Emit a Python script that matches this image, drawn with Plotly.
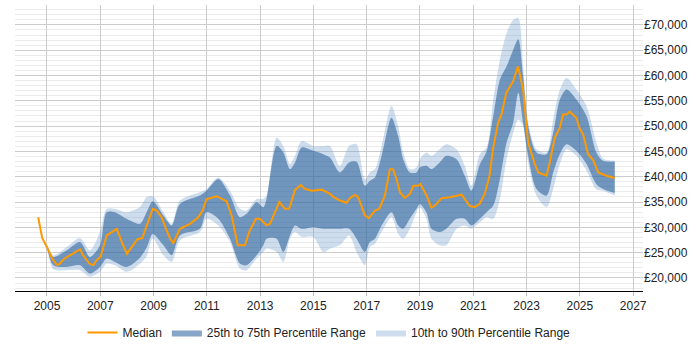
import plotly.graph_objects as go

# Median series (decimal year, GBP)
median_years = [2004.67, 2004.82, 2005.0, 2005.2, 2005.36, 2005.46, 2005.65, 2005.93, 2006.24, 2006.36,
                2006.59, 2006.74, 2006.86, 2007.01, 2007.24, 2007.45, 2007.62, 2007.83, 2008.0, 2008.18,
                2008.39, 2008.58, 2008.74, 2008.97, 2009.12, 2009.3, 2009.47, 2009.62, 2009.74, 2009.99,
                2010.37, 2010.68, 2010.84, 2010.99, 2011.37, 2011.74, 2011.93, 2012.16, 2012.43, 2012.59,
                2012.84, 2012.99, 2013.24, 2013.37, 2013.72, 2013.93, 2014.09, 2014.31, 2014.53, 2014.68,
                2014.93, 2015.31, 2015.62, 2015.74, 2015.99, 2016.25, 2016.37, 2016.56, 2016.68, 2016.93,
                2017.08, 2017.31, 2017.47, 2017.68, 2017.87, 2017.99, 2018.12, 2018.25, 2018.43, 2018.62,
                2018.75, 2018.93, 2019.02, 2019.25, 2019.43, 2019.56, 2019.81, 2020.12, 2020.56, 2020.68,
                2020.87, 2021.05, 2021.24, 2021.43, 2021.61, 2021.74, 2021.93, 2022.06, 2022.24, 2022.5,
                2022.68, 2022.87, 2023.06, 2023.31, 2023.44, 2023.75, 2023.87, 2024.06, 2024.25, 2024.37,
                2024.5, 2024.62, 2024.75, 2024.87, 2025.0, 2025.12, 2025.31, 2025.5, 2025.69, 2026.0, 2026.31]
median_values = [32000, 27900, 26100, 23800, 22650, 22700, 23800, 24600, 25650, 24450,
                 22850, 22500, 23500, 24150, 28400, 29100, 29700, 26800, 24800, 26100,
                 27600, 27900, 30400, 33650, 33300, 32000, 29700, 27750, 26900, 29700,
                 30700, 32000, 33300, 35600, 36150, 35150, 32350, 26450, 26450, 29100,
                 31700, 31700, 30400, 30700, 35000, 33650, 33650, 37400, 38350, 37600,
                 37250, 37450, 36600, 36050, 35300, 34850, 35800, 36400, 35950, 32350,
                 31800, 33300, 33650, 36250, 41500, 41500, 39550, 36900, 35800, 36600,
                 38200, 38200, 38550, 36250, 33850, 34300, 35750, 35950, 36450, 35600,
                 34200, 34000, 34650, 36600, 40200, 45450, 50700, 52300, 56600, 58900,
                 61800, 57200, 46750, 42500, 40850, 40200, 42800, 47750, 49700, 52300,
                 52300, 52850, 52300, 51650, 49400, 48400, 44450, 43300, 40850, 40200, 39750]

# Percentile bands (decimal year, GBP)
band_years = [2004.67, 2004.82, 2005.0, 2005.24, 2005.74, 2006.24, 2006.61, 2006.99, 2007.24, 2007.55,
              2007.99, 2008.49, 2008.74, 2008.97, 2009.37, 2009.68, 2009.99, 2010.74, 2010.99, 2011.43,
              2011.87, 2012.24, 2012.49, 2012.87, 2013.12, 2013.24, 2013.62, 2013.87, 2014.12, 2014.31,
              2014.56, 2014.99, 2015.37, 2015.62, 2015.99, 2016.34, 2016.62, 2016.93, 2017.12, 2017.31,
              2017.56, 2017.93, 2018.18, 2018.37, 2018.62, 2018.87, 2018.99, 2019.24, 2019.43, 2019.74,
              2019.99, 2020.37, 2020.68, 2020.93, 2021.25, 2021.5, 2021.75, 2022.0, 2022.25, 2022.5,
              2022.69, 2022.87, 2023.06, 2023.37, 2023.75, 2024.0, 2024.25, 2024.5, 2024.87, 2025.25,
              2025.62, 2025.87, 2026.31]
p90 = [32000, 27900, 26500, 24480, 26110, 27880, 25460, 29060, 33650, 33650,
       32990, 34000, 36000, 36140, 33000, 30700, 35280, 36920, 37580, 39870,
       37250, 33650, 33320, 35610, 35610, 36270, 47730, 46090, 42490, 44130,
       47080, 46090, 46090, 46090, 42160, 46090, 46420, 39540, 40850, 41510,
       46090, 53950, 50020, 44780, 41510, 41840, 43470, 44780, 44130, 45440,
       46420, 45440, 42160, 38230, 44500, 45770, 55260, 63120, 68360, 70980,
       71310, 61810, 50680, 45440, 44780, 51330, 57230, 59520, 57230, 53950,
       46750, 43600, 43140]
p75 = [32000, 27900, 26300, 24150, 25460, 27100, 24150, 26440, 32990, 32990,
       31680, 30700, 33000, 35150, 32340, 30370, 34630, 36270, 37250, 39540,
       36270, 32010, 32670, 34960, 33970, 35610, 46090, 44780, 41510, 42820,
       45760, 45110, 44450, 43800, 40850, 42820, 42950, 38230, 39220, 39870,
       44130, 51660, 48060, 43470, 40850, 40850, 41840, 42160, 41510, 42820,
       44130, 43470, 40200, 37250, 42500, 45000, 52000, 59200, 61810, 65090,
       67180, 59850, 50020, 44780, 44450, 48710, 55260, 57230, 55260, 51990,
       44780, 43140, 43010]
p25 = [32000, 27900, 25800, 22510, 22180, 22510, 20870, 22180, 23820, 23170,
       22180, 24000, 26000, 28700, 26440, 24480, 28410, 29720, 32990, 31680,
       27750, 22840, 22510, 24480, 26440, 27750, 27750, 25130, 28410, 30370,
       29720, 30040, 29720, 29720, 29720, 29720, 27750, 25130, 27100, 27750,
       30370, 32990, 30370, 29720, 31680, 33650, 34630, 32990, 29720, 29060,
       29720, 31680, 31680, 30370, 31700, 33000, 34300, 39540, 46750, 50680,
       56570, 50680, 44130, 37580, 36270, 40850, 44500, 46420, 45110, 42500,
       38500, 37580, 36790]
p10 = [32000, 27900, 25600, 21730, 21530, 21530, 20220, 21200, 22840, 22510,
       21200, 22800, 24300, 27800, 24480, 23170, 27420, 29060, 31680, 30370,
       27100, 21860, 21530, 23820, 25130, 25790, 25130, 23170, 27750, 29060,
       28080, 28080, 25130, 25790, 26440, 28400, 25130, 22510, 26110, 26770,
       29060, 32010, 28740, 27750, 29720, 32990, 33970, 31680, 27750, 26440,
       26440, 29720, 30370, 29720, 31000, 32000, 31680, 35600, 43470, 48710,
       51330, 50020, 42820, 36270, 33970, 37580, 42500, 45440, 44130, 41200,
       37500, 37250, 36270]

x_ticks = [2005, 2007, 2009, 2011, 2013, 2015, 2017, 2019, 2021, 2023, 2025, 2027]

LIGHT = "rgba(112,158,206,0.35)"
DARK = "rgba(37,91,151,0.55)"
ORANGE = "#FF9900"

band_line = dict(width=0, shape="spline", smoothing=0.8)

fig = go.Figure()
fig.add_trace(go.Scatter(x=band_years, y=p90, mode="lines", line=dict(color=LIGHT, **band_line),
                         showlegend=False, hoverinfo="skip"))
fig.add_trace(go.Scatter(x=band_years, y=p10, mode="lines", line=dict(color=LIGHT, **band_line),
                         fill="tonexty", fillcolor=LIGHT, name="10th to 90th Percentile Range",
                         legendrank=3))
fig.add_trace(go.Scatter(x=band_years, y=p75, mode="lines", line=dict(color=DARK, **band_line),
                         showlegend=False, hoverinfo="skip"))
fig.add_trace(go.Scatter(x=band_years, y=p25, mode="lines", line=dict(color=DARK, **band_line),
                         fill="tonexty", fillcolor=DARK, name="25th to 75th Percentile Range",
                         legendrank=2))
fig.add_trace(go.Scatter(x=median_years, y=median_values, mode="lines",
                         line=dict(width=2, color=ORANGE), name="Median", legendrank=1))

fig.update_layout(
    width=700, height=350,
    margin=dict(l=15, r=57, t=5, b=58),
    paper_bgcolor="white", plot_bgcolor="white",
    font=dict(family="Liberation Sans, Arial, sans-serif", size=12, color="#222"),
    legend=dict(orientation="h", x=0.5, xanchor="center", yref="container", y=0.05,
                yanchor="middle", font=dict(size=12, color="#222"), itemwidth=30,
                traceorder="normal"),
    xaxis=dict(range=[2003.8, 2027.37], tickvals=x_ticks, ticktext=[str(t) for t in x_ticks],
               showgrid=True, gridcolor="#cccccc", gridwidth=1,
               showline=True, linecolor="#000", linewidth=1,
               ticks="outside", ticklen=4, tickcolor="#bbbbbb", zeroline=False),
    yaxis=dict(range=[17500, 73930], side="right", dtick=5000, tick0=0,
               tickprefix="£", tickformat=",", showgrid=True, gridcolor="#cccccc",
               gridwidth=1, zeroline=False, showline=False, ticks="",
               minor=dict(dtick=1000, showgrid=True, gridcolor="#ebebeb", gridwidth=1)),
)

fig.write_html("out.html")
